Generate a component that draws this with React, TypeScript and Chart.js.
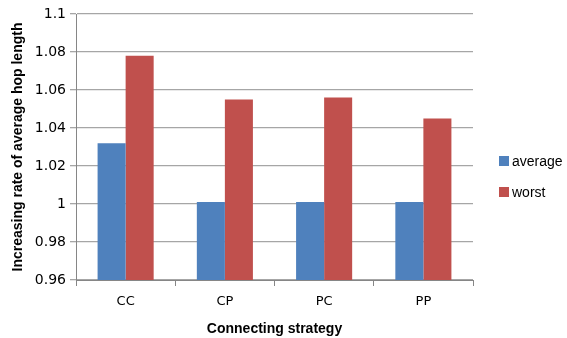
import React, { useEffect, useRef } from "react";
import { Chart, registerables } from "chart.js";

Chart.register(...registerables);

const categories = ["CC", "CP", "PC", "PP"];
const averageValues = [1.032, 1.001, 1.001, 1.001];
const worstValues = [1.078, 1.055, 1.056, 1.045];
const seriesNames = ["average", "worst"];
const seriesColors = ["#4F81BD", "#C0504D"];
const yMin = 0.96;
const yMax = 1.1;
const yStep = 0.02;

const FONT = "'DejaVu Sans', sans-serif";
const TFONT = "'Liberation Sans', Arial, sans-serif";

const legendPlugin = {
  id: "customLegend",
  afterDraw(chart: any) {
    const ctx = chart.ctx;
    const area = chart.chartArea;
    ctx.save();
    ctx.font = `14px ${TFONT}`;
    ctx.textBaseline = "middle";
    ctx.textAlign = "left";
    chart.data.datasets.forEach((ds: any, i: number) => {
      const cy = 161 + i * 31;
      const x = area.right + 26;
      ctx.fillStyle = ds.backgroundColor;
      ctx.fillRect(x, cy - 5, 10, 10);
      ctx.fillStyle = "#000";
      ctx.fillText(ds.label, x + 13, cy + 1);
    });
    ctx.restore();
  },
};

export default function App() {
  const ref = useRef<HTMLCanvasElement | null>(null);
  useEffect(() => {
    document.body.style.margin = "0";
    const chart = new Chart(ref.current as HTMLCanvasElement, {
      type: "bar",
      data: {
        labels: categories,
        datasets: [
          { label: seriesNames[0], data: averageValues, backgroundColor: seriesColors[0] },
          { label: seriesNames[1], data: worstValues, backgroundColor: seriesColors[1] },
        ],
      },
      plugins: [legendPlugin],
      options: {
        responsive: false,
        animation: false,
        maintainAspectRatio: false,
        layout: { padding: { top: 14, right: 94, left: 10, bottom: 0 } },
        datasets: { bar: { categoryPercentage: 0.565, barPercentage: 1 } } as any,
        plugins: { legend: { display: false }, tooltip: { enabled: false } },
        scales: {
          x: {
            afterFit: (s: any) => { s.height = 58; },
            grid: { offset: true, drawOnChartArea: false, tickLength: 6, color: "#868686" },
            border: { color: "#868686" },
            ticks: { color: "#000", font: { family: FONT, size: 13 }, padding: 8 },
            title: {
              display: true,
              text: "Connecting strategy",
              color: "#000",
              font: { family: TFONT, size: 14, weight: "bold" },
              padding: { top: 5, bottom: 0 },
            },
          },
          y: {
            min: yMin,
            max: yMax,
            afterFit: (s: any) => { s.width = 66; },
            afterBuildTicks: (s: any) => {
              const t = [];
              for (let i = 0; i <= Math.round((yMax - yMin) / yStep); i++) t.push({ value: +(yMin + i * yStep).toFixed(2) });
              s.ticks = t;
            },
            grid: { color: "#A6A6A6", tickLength: 6, lineWidth: 1.3 },
            border: { color: "#868686" },
            ticks: {
              color: "#000",
              font: { family: FONT, size: 14 },
              padding: 4,
              callback: (v: any) => String(+Number(v).toFixed(2)),
            },
            title: {
              display: true,
              text: "Increasing rate of average hop length",
              color: "#000",
              font: { family: TFONT, size: 14, weight: "bold" },
              padding: { top: 0, bottom: 2 },
            },
          },
        },
      },
    });
    return () => chart.destroy();
  }, []);
  return (
    <div style={{ width: 567, height: 338 }}>
      <canvas ref={ref} width={567} height={338} style={{ display: "block" }} />
    </div>
  );
}
